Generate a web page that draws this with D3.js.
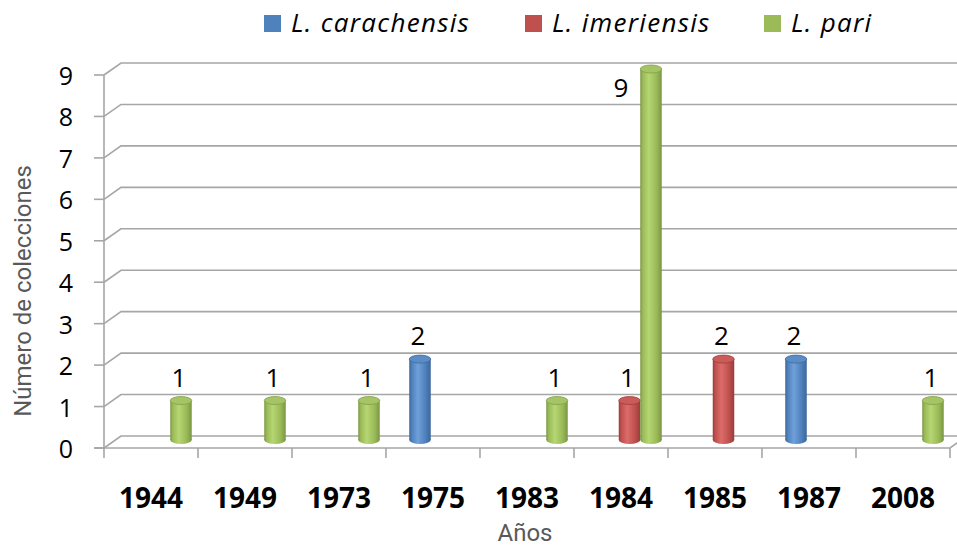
<!DOCTYPE html>
<meta charset="utf-8">
<style>
  body { margin: 0; background: #fff; }
  .tick-label { font: 25px "Open Sans", sans-serif; fill: #000; }
  .year-label { font: bold 28px "Open Sans", sans-serif; fill: #000; }
  .data-label { font: 26px "Open Sans", sans-serif; fill: #000; }
  .axis-title { font: 24px Roboto, sans-serif; fill: #595959; }
  .legend-text { font: italic 26px "Open Sans", sans-serif; fill: #000; letter-spacing: 1.3px; }
</style>
<svg width="957" height="547"></svg>
<script src="https://d3js.org/d3.v7.min.js"></script>
<script>

  // data
  var years = ["1944", "1949", "1973", "1975", "1983", "1984", "1985", "1987", "2008"];
  var seriesNames = ["L. carachensis", "L. imeriensis", "L. pari"];
  var carachensis = [0, 0, 0, 2, 0, 0, 0, 2, 0];
  var imeriensis = [0, 0, 0, 0, 0, 1, 2, 0, 0];
  var pari = [1, 1, 1, 0, 1, 9, 0, 0, 1];
  var yTicks = [0, 1, 2, 3, 4, 5, 6, 7, 8, 9];

  var values = [carachensis, imeriensis, pari];
  var palette = [
    { dark: "#3b6699", base: "#4f81bd", light: "#70a0d8", top: "#5a8cc6", stroke: "#41699c" },
    { dark: "#973d3a", base: "#c0504d", light: "#dc6c69", top: "#c95b58", stroke: "#9e3f3c" },
    { dark: "#7b9644", base: "#9bbb59", light: "#b6d573", top: "#a5c465", stroke: "#83a04a" }
  ];

  var svg = d3.select("svg"),
    width = +svg.attr("width"),
    height = +svg.attr("height");

  var left = 104, right = 950, depthX = 17, depthY = -12;

  var x0 = d3.scaleBand().domain(years).range([left, right]);
  var x1 = d3.scaleBand().domain(seriesNames).range([0, x0.bandwidth()])
    .paddingInner(0).paddingOuter(0.686);
  var y = d3.scaleLinear().domain([0, 9]).range([448, 75]);

  var defs = svg.append("defs");
  palette.forEach(function (p, i) {
    var grad = defs.append("linearGradient").attr("id", "cyl" + i)
      .attr("x1", "0").attr("x2", "1").attr("y1", "0").attr("y2", "0");
    [[0, p.dark], [0.12, p.base], [0.4, p.light], [0.75, p.base], [1, p.dark]].forEach(function (s) {
      grad.append("stop").attr("offset", s[0]).attr("stop-color", s[1]);
    });
  });

  var grid = svg.append("g");

  // walls / gridlines with the 3D slant
  grid.selectAll("path.grid").data(yTicks).enter().append("path")
    .attr("class", "grid")
    .attr("d", function (d) {
      return "M" + left + "," + y(d) + "L" + (left + depthX) + "," + (y(d) + depthY) + "L" + width + "," + (y(d) + depthY);
    })
    .attr("fill", "none").attr("stroke", "#a6a6a6").attr("stroke-width", 1.6);

  // front floor edge
  grid.append("path")
    .attr("d", "M" + (left - 10) + "," + y(0) + "L" + right + "," + y(0) + "L" + (right + depthX) + "," + (y(0) + depthY))
    .attr("fill", "none").attr("stroke", "#a6a6a6").attr("stroke-width", 1.6);

  // y axis line + ticks
  grid.append("line").attr("x1", left).attr("x2", left).attr("y1", y(9)).attr("y2", y(0))
    .attr("stroke", "#a6a6a6").attr("stroke-width", 1.6);
  grid.selectAll("line.yt").data(yTicks).enter().append("line")
    .attr("class", "yt")
    .attr("x1", left - 10).attr("x2", left)
    .attr("y1", function (d) { return y(d); }).attr("y2", function (d) { return y(d); })
    .attr("stroke", "#a6a6a6").attr("stroke-width", 1.6);

  svg.selectAll("text.tick-label").data(yTicks).enter().append("text")
    .attr("class", "tick-label")
    .attr("x", left - 31).attr("y", function (d) { return y(d) + 10; })
    .attr("text-anchor", "end")
    .text(function (d) { return d; });

  // x ticks
  var xTickPos = years.map(function (d) { return x0(d); }).concat([right]);
  grid.selectAll("line.xt").data(xTickPos).enter().append("line")
    .attr("class", "xt")
    .attr("x1", function (d) { return d; }).attr("x2", function (d) { return d; })
    .attr("y1", y(0)).attr("y2", y(0) + 10)
    .attr("stroke", "#a6a6a6").attr("stroke-width", 1.6);

  svg.selectAll("text.year-label").data(years).enter().append("text")
    .attr("class", "year-label")
    .attr("x", function (d) { return x0(d) + x0.bandwidth() / 2; })
    .attr("y", 508)
    .attr("text-anchor", "middle")
    .text(function (d) { return d; });

  // cylinders
  var bars = [];
  years.forEach(function (yr, i) {
    seriesNames.forEach(function (s, j) {
      if (values[j][i] > 0) bars.push({ year: yr, series: s, idx: j, value: values[j][i] });
    });
  });

  var ry = 4;
  var cyl = svg.append("g").selectAll("g").data(bars).enter().append("g");
  cyl.each(function (d) {
    var g = d3.select(this);
    var w = x1.bandwidth();
    var bx = x0(d.year) + x1(d.series) + depthX / 2;
    var yTop = y(d.value) + depthY / 2;
    var yBot = y(0) + depthY / 2 - 2;
    var p = palette[d.idx];
    g.append("ellipse").attr("cx", bx + w / 2).attr("cy", yBot).attr("rx", w / 2).attr("ry", ry)
      .attr("fill", "url(#cyl" + d.idx + ")");
    g.append("rect").attr("x", bx).attr("y", yTop).attr("width", w).attr("height", yBot - yTop)
      .attr("fill", "url(#cyl" + d.idx + ")");
    g.append("ellipse").attr("cx", bx + w / 2).attr("cy", yTop).attr("rx", w / 2).attr("ry", ry)
      .attr("fill", p.top).attr("stroke", p.stroke).attr("stroke-width", 0.8);

    var lab = g.append("text").attr("class", "data-label").text(d.value);
    if (d.value === 9) {
      lab.attr("x", bx - 12).attr("y", yTop + 28).attr("text-anchor", "end");
    } else {
      lab.attr("x", bx + w / 2 - 2).attr("y", yTop - 14).attr("text-anchor", "middle");
    }
  });

  // axis titles
  svg.append("text").attr("class", "axis-title")
    .attr("transform", "translate(31,291) rotate(-90)")
    .attr("text-anchor", "middle")
    .text("Número de colecciones");
  svg.append("text").attr("class", "axis-title")
    .attr("x", (left + right) / 2 - 2).attr("y", 541)
    .attr("text-anchor", "middle")
    .text("Años");

  // legend
  var legendX = [264, 525, 764];
  var legend = svg.append("g").selectAll("g").data(seriesNames).enter().append("g")
    .attr("transform", function (d, i) { return "translate(" + legendX[i] + ",15)"; });
  legend.append("rect").attr("width", 17).attr("height", 17)
    .attr("fill", function (d, i) { return palette[i].base; });
  legend.append("text").attr("class", "legend-text")
    .attr("x", 27).attr("y", 17)
    .text(function (d) { return d; });

</script>
